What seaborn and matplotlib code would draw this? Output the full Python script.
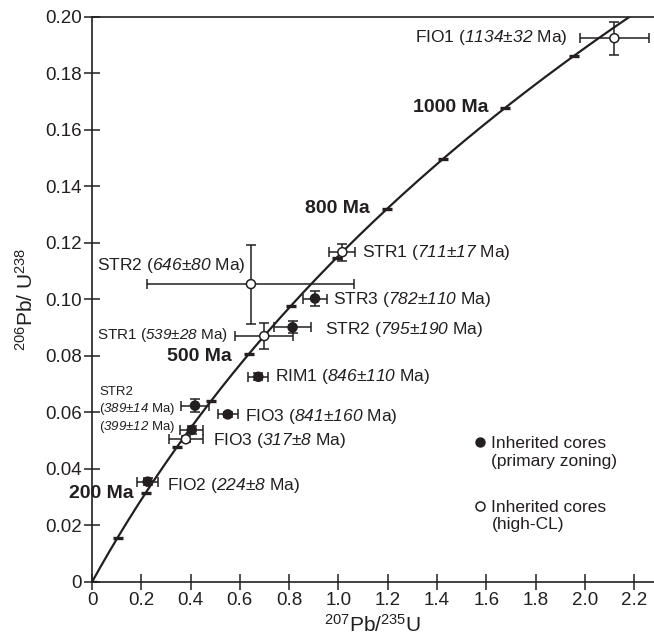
import numpy as np
import pandas as pd
import matplotlib
matplotlib.use('Agg')
import matplotlib.pyplot as plt
import seaborn as sns

# Datos
nombres = ['FIO1', 'STR1', 'STR2', 'STR3', 'STR2', 'STR1', 'RIM1', 'STR2', 'FIO3', 'STR2', 'FIO3', 'FIO2']
edades = [1134, 711, 646, 782, 795, 539, 846, 389, 841, 399, 317, 224]
edades_err = [32, 17, 80, 110, 190, 28, 110, 14, 160, 12, 8, 8]
pb207_u235 = [2.12, 1.016, 0.645, 0.905, 0.814, 0.699, 0.675, 0.418, 0.551, 0.405, 0.381, 0.226]
pb206_u238 = [0.1924, 0.1167, 0.1054, 0.1003, 0.0901, 0.0870, 0.0726, 0.0624, 0.0593, 0.0538, 0.0505, 0.0355]
x_err = [0.14, 0.053, 0.42, 0.048, 0.076, 0.117, 0.04, 0.055, 0.041, 0.047, 0.07, 0.043]
y_err = [0.0058, 0.003, 0.014, 0.0025, 0.0021, 0.0046, 0.0012, 0.0024, 0.001, 0.0015, 0.001, 0.0012]
grupo = ['high-CL', 'high-CL', 'high-CL', 'primary', 'primary', 'high-CL',
         'primary', 'primary', 'primary', 'primary', 'high-CL', 'primary']

# Concordia (constantes de decaimiento, 1/Ma)
lambda238 = 1.55125e-4
lambda235 = 9.8485e-4
marcas_edad = [0, 100, 200, 300, 400, 500, 600, 700, 800, 900, 1000, 1100]
edades_rotuladas = [200, 500, 800, 1000]

xticks = [0, 0.2, 0.4, 0.6, 0.8, 1.0, 1.2, 1.4, 1.6, 1.8, 2.0, 2.2]
xtick_labels = ['0', '0.2', '0.4', '0.6', '0.8', '1.0', '1.2', '1.4', '1.6', '1.8', '2.0', '2.2']
yticks = [0, 0.02, 0.04, 0.06, 0.08, 0.10, 0.12, 0.14, 0.16, 0.18, 0.20]
ytick_labels = ['0', '0.02', '0.04', '0.06', '0.08', '0.10', '0.12', '0.14', '0.16', '0.18', '0.20']

sns.set_style('ticks')
plt.rcParams['font.family'] = ['Liberation Sans', 'DejaVu Sans']
plt.rcParams['mathtext.fontset'] = 'custom'
plt.rcParams['mathtext.rm'] = 'Liberation Sans'
plt.rcParams['mathtext.it'] = 'Liberation Sans:italic'
plt.rcParams['mathtext.sf'] = 'Liberation Sans:italic'  # para cifras en cursiva
plt.rcParams['mathtext.bf'] = 'Liberation Sans:bold'
plt.rcParams['mathtext.default'] = 'regular'

negro = '#231f20'

df = pd.DataFrame({'x': pb207_u235, 'y': pb206_u238, 'xe': x_err, 'ye': y_err, 'grupo': grupo})

t = np.linspace(0, 1250, 400)
curva = pd.DataFrame({'x': np.exp(lambda235 * t) - 1, 'y': np.exp(lambda238 * t) - 1})
tm = np.array(marcas_edad)

fig = plt.figure(figsize=(6.54, 6.41), dpi=100)
ax = fig.add_axes([92 / 654, 59 / 641, 561.8 / 654, 565.3 / 641])

sns.lineplot(data=curva, x='x', y='y', sort=False, estimator=None, color=negro, lw=1.6, ax=ax)
ax.plot(np.exp(lambda235 * tm) - 1, np.exp(lambda238 * tm) - 1, ls='none', marker='_',
        ms=7.5, mew=2.4, color=negro, zorder=3)

ax.errorbar(df['x'], df['y'], xerr=df['xe'], yerr=df['ye'], fmt='none', ecolor=negro,
            elinewidth=1.1, capsize=3.5, capthick=1.1, zorder=4)
sns.scatterplot(data=df, x='x', y='y', hue='grupo', palette={'primary': negro, 'high-CL': 'white'},
                edgecolor=negro, linewidth=1.1, s=42, legend=False, zorder=5, ax=ax)

# rotulos de edades en la concordia
pos_edades = {200: (0.168, 0.0314, 'right'), 500: (0.306, 0.0797, 'left'),
              800: (0.866, 0.1323, 'left'), 1000: (1.301, 0.168, 'left')}
for e in edades_rotuladas:
    px, py, ha = pos_edades[e]
    ax.text(px, py, f'{e} Ma', ha=ha, va='center', fontsize=14, fontweight='bold', color=negro)

# rotulos de los analisis: (x, y, ha, tamaño, formato)
pos_rotulos = [(1.93, 0.1925, 'right', 12.5, 'full'),
               (1.097, 0.1167, 'left', 12.5, 'full'),
               (0.0215, 0.112, 'left', 12.5, 'full'),
               (0.98, 0.0998, 'left', 12.5, 'full'),
               (0.946, 0.0895, 'left', 12.5, 'full'),
               (0.022, 0.0874, 'left', 11, 'full'),
               (0.743, 0.0726, 'left', 12.5, 'full'),
               (0.03, 0.0611, 'left', 9.5, 'two'),
               (0.621, 0.0587, 'left', 12.5, 'full'),
               (0.03, 0.055, 'left', 9.5, 'age'),
               (0.49, 0.0499, 'left', 12.5, 'full'),
               (0.306, 0.0343, 'left', 12.5, 'full')]
for n, e, er, (px, py, ha, fs, modo) in zip(nombres, edades, edades_err, pos_rotulos):
    edad_txt = f'($\\mathsf{{{e}}}$±$\\mathsf{{{er}}}$ Ma)'
    if modo == 'full':
        ax.text(px, py, f'{n} {edad_txt}', ha=ha, va='center', fontsize=fs, color=negro)
    elif modo == 'two':
        ax.text(px, py + 0.0062, n, ha=ha, va='center', fontsize=fs, color=negro)
        ax.text(px, py, edad_txt, ha=ha, va='center', fontsize=fs, color=negro)
    else:
        ax.text(px, py, edad_txt, ha=ha, va='center', fontsize=fs, color=negro)

# leyenda manual
ax.scatter([0.691], [0.247], s=42, color=negro, transform=ax.transAxes, clip_on=False)
ax.scatter([0.691], [0.135], s=42, facecolor='white', edgecolor=negro, linewidth=1.1,
           transform=ax.transAxes, clip_on=False)
ax.text(0.711, 0.229, 'Inherited cores\n(primary zoning)', transform=ax.transAxes,
        ha='left', va='center', fontsize=12.5, linespacing=1.18, color=negro)
ax.text(0.711, 0.1165, 'Inherited cores\n(high-CL)', transform=ax.transAxes,
        ha='left', va='center', fontsize=12.5, linespacing=1.18, color=negro)

ax.set_xlim(0, 2.28)
ax.set_ylim(0, 0.2)
ax.set_xticks(xticks)
ax.set_xticklabels(xtick_labels)
ax.set_yticks(yticks)
ax.set_yticklabels(ytick_labels)
ax.tick_params(direction='inout', length=11, width=1.1, labelsize=13.5, pad=2, colors=negro)
ax.spines['right'].set_visible(False)
for s in ['left', 'bottom', 'top']:
    ax.spines[s].set_linewidth(1.2)
    ax.spines[s].set_color(negro)

ax.set_xlabel('$^{207}$Pb/$^{235}$U', fontsize=15, color=negro, labelpad=3)
ax.set_ylabel('$^{206}$Pb/ U$^{238}$', fontsize=15, color=negro, labelpad=6)

plt.savefig('out.png', dpi=100)
